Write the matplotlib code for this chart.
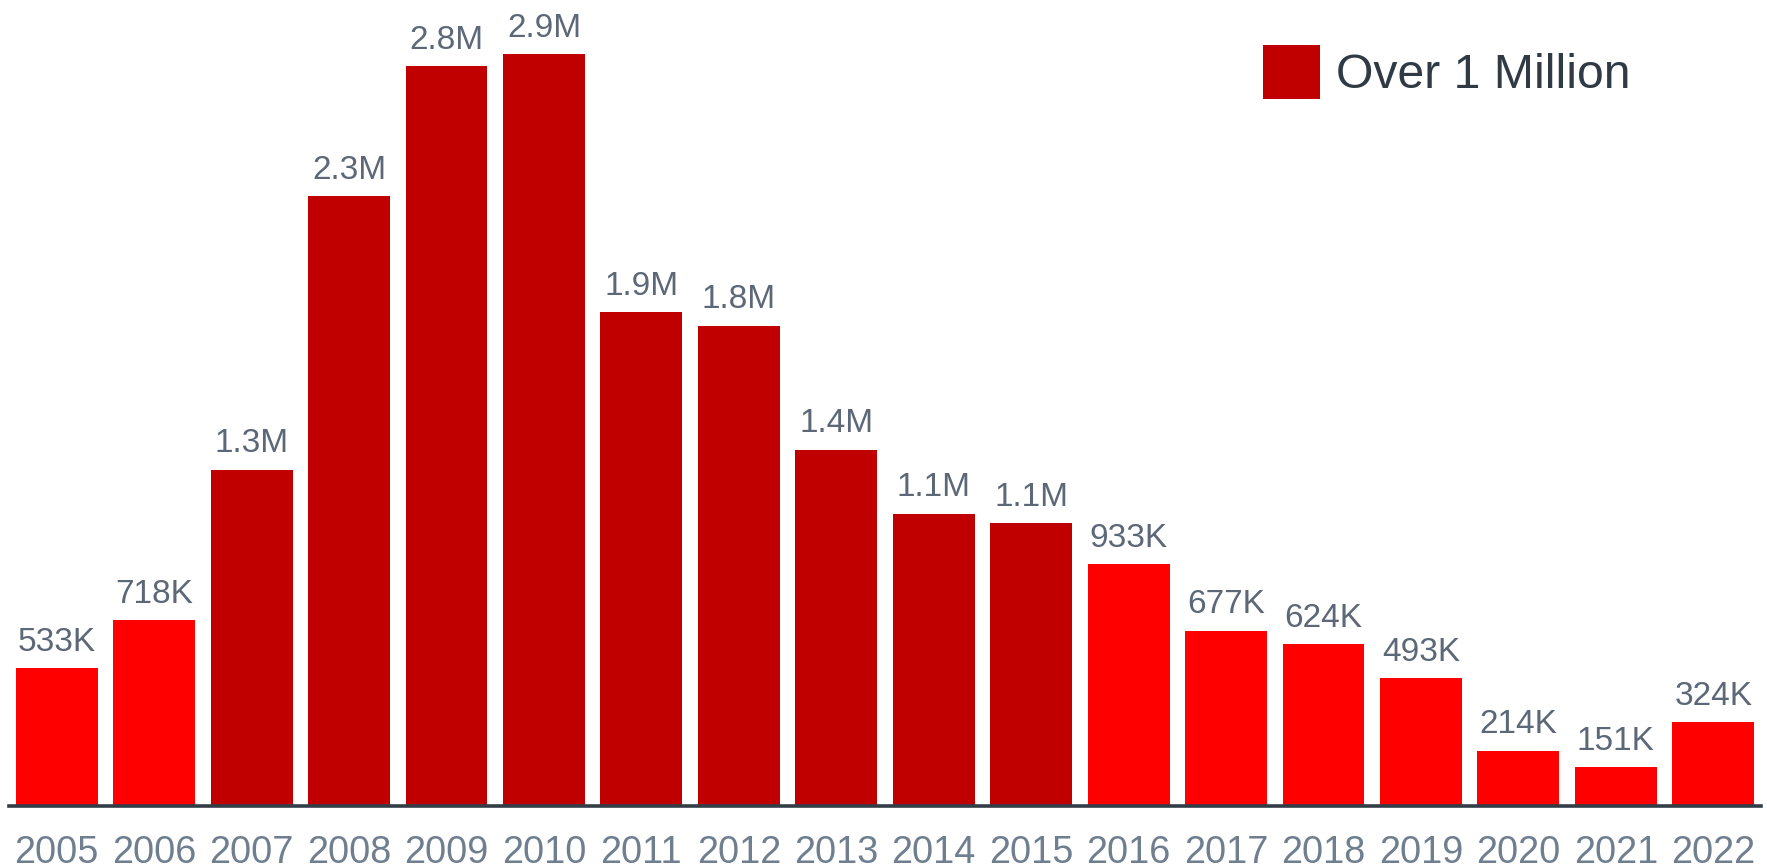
import matplotlib
matplotlib.use("Agg")
import matplotlib.pyplot as plt
from matplotlib.patches import Patch

years = ["2005", "2006", "2007", "2008", "2009", "2010", "2011", "2012", "2013",
         "2014", "2015", "2016", "2017", "2018", "2019", "2020", "2021", "2022"]
values_k = [533, 718, 1298, 2355, 2856, 2903, 1907, 1854, 1376,
            1128, 1093, 933, 677, 624, 493, 214, 151, 324]
labels = ["533K", "718K", "1.3M", "2.3M", "2.8M", "2.9M", "1.9M", "1.8M", "1.4M",
          "1.1M", "1.1M", "933K", "677K", "624K", "493K", "214K", "151K", "324K"]
legend_label = "Over 1 Million"

DARK = "#c00000"
BRIGHT = "#ff0000"

plt.rcParams['font.family'] = ['Liberation Sans', 'DejaVu Sans']

W, H = 1767, 868
fig = plt.figure(figsize=(W / 100, H / 100), dpi=100)
left, right = 9 / W, 1761 / W
bottom = (H - 806) / H
ax = fig.add_axes([left, bottom, right - left, 1 - bottom])

x = list(range(len(years)))
colors = [DARK if v >= 1000 else BRIGHT for v in values_k]
bars = ax.bar(x, values_k, width=0.84, color=colors, zorder=2)

for xi, v, lab in zip(x, values_k, labels):
    ax.annotate(lab, (xi, v), xytext=(0, 12.5), textcoords="offset points",
                ha="center", va="baseline", fontsize=24, color="#5c6877")

ax.set_xlim(-0.49, len(years) - 0.51)
ax.set_ylim(0, 806 / 0.259)
ax.set_xticks(x)
ax.set_xticklabels(years)
ax.tick_params(axis="x", length=0, pad=21, labelsize=27.3, labelcolor="#6f7f8f")
ax.set_yticks([])
for s in ["top", "right", "left"]:
    ax.spines[s].set_visible(False)
ax.spines["bottom"].set_color("#333d47")
ax.spines["bottom"].set_linewidth(2.6)
ax.spines["bottom"].set_zorder(3)

fs = 34.7
px = fs * 100 / 72
handle = Patch(facecolor=DARK, edgecolor="none")
fig.legend([handle], [legend_label], loc="center left",
           bbox_to_anchor=(1263 / W, 1 - 72 / H), frameon=False,
           fontsize=fs, handlelength=57 / px, handleheight=(54 / 46) * 54 / px,
           handletextpad=0.33, borderpad=0, borderaxespad=0, labelcolor="#2f3a44")

fig.savefig("out.png", dpi=100)
